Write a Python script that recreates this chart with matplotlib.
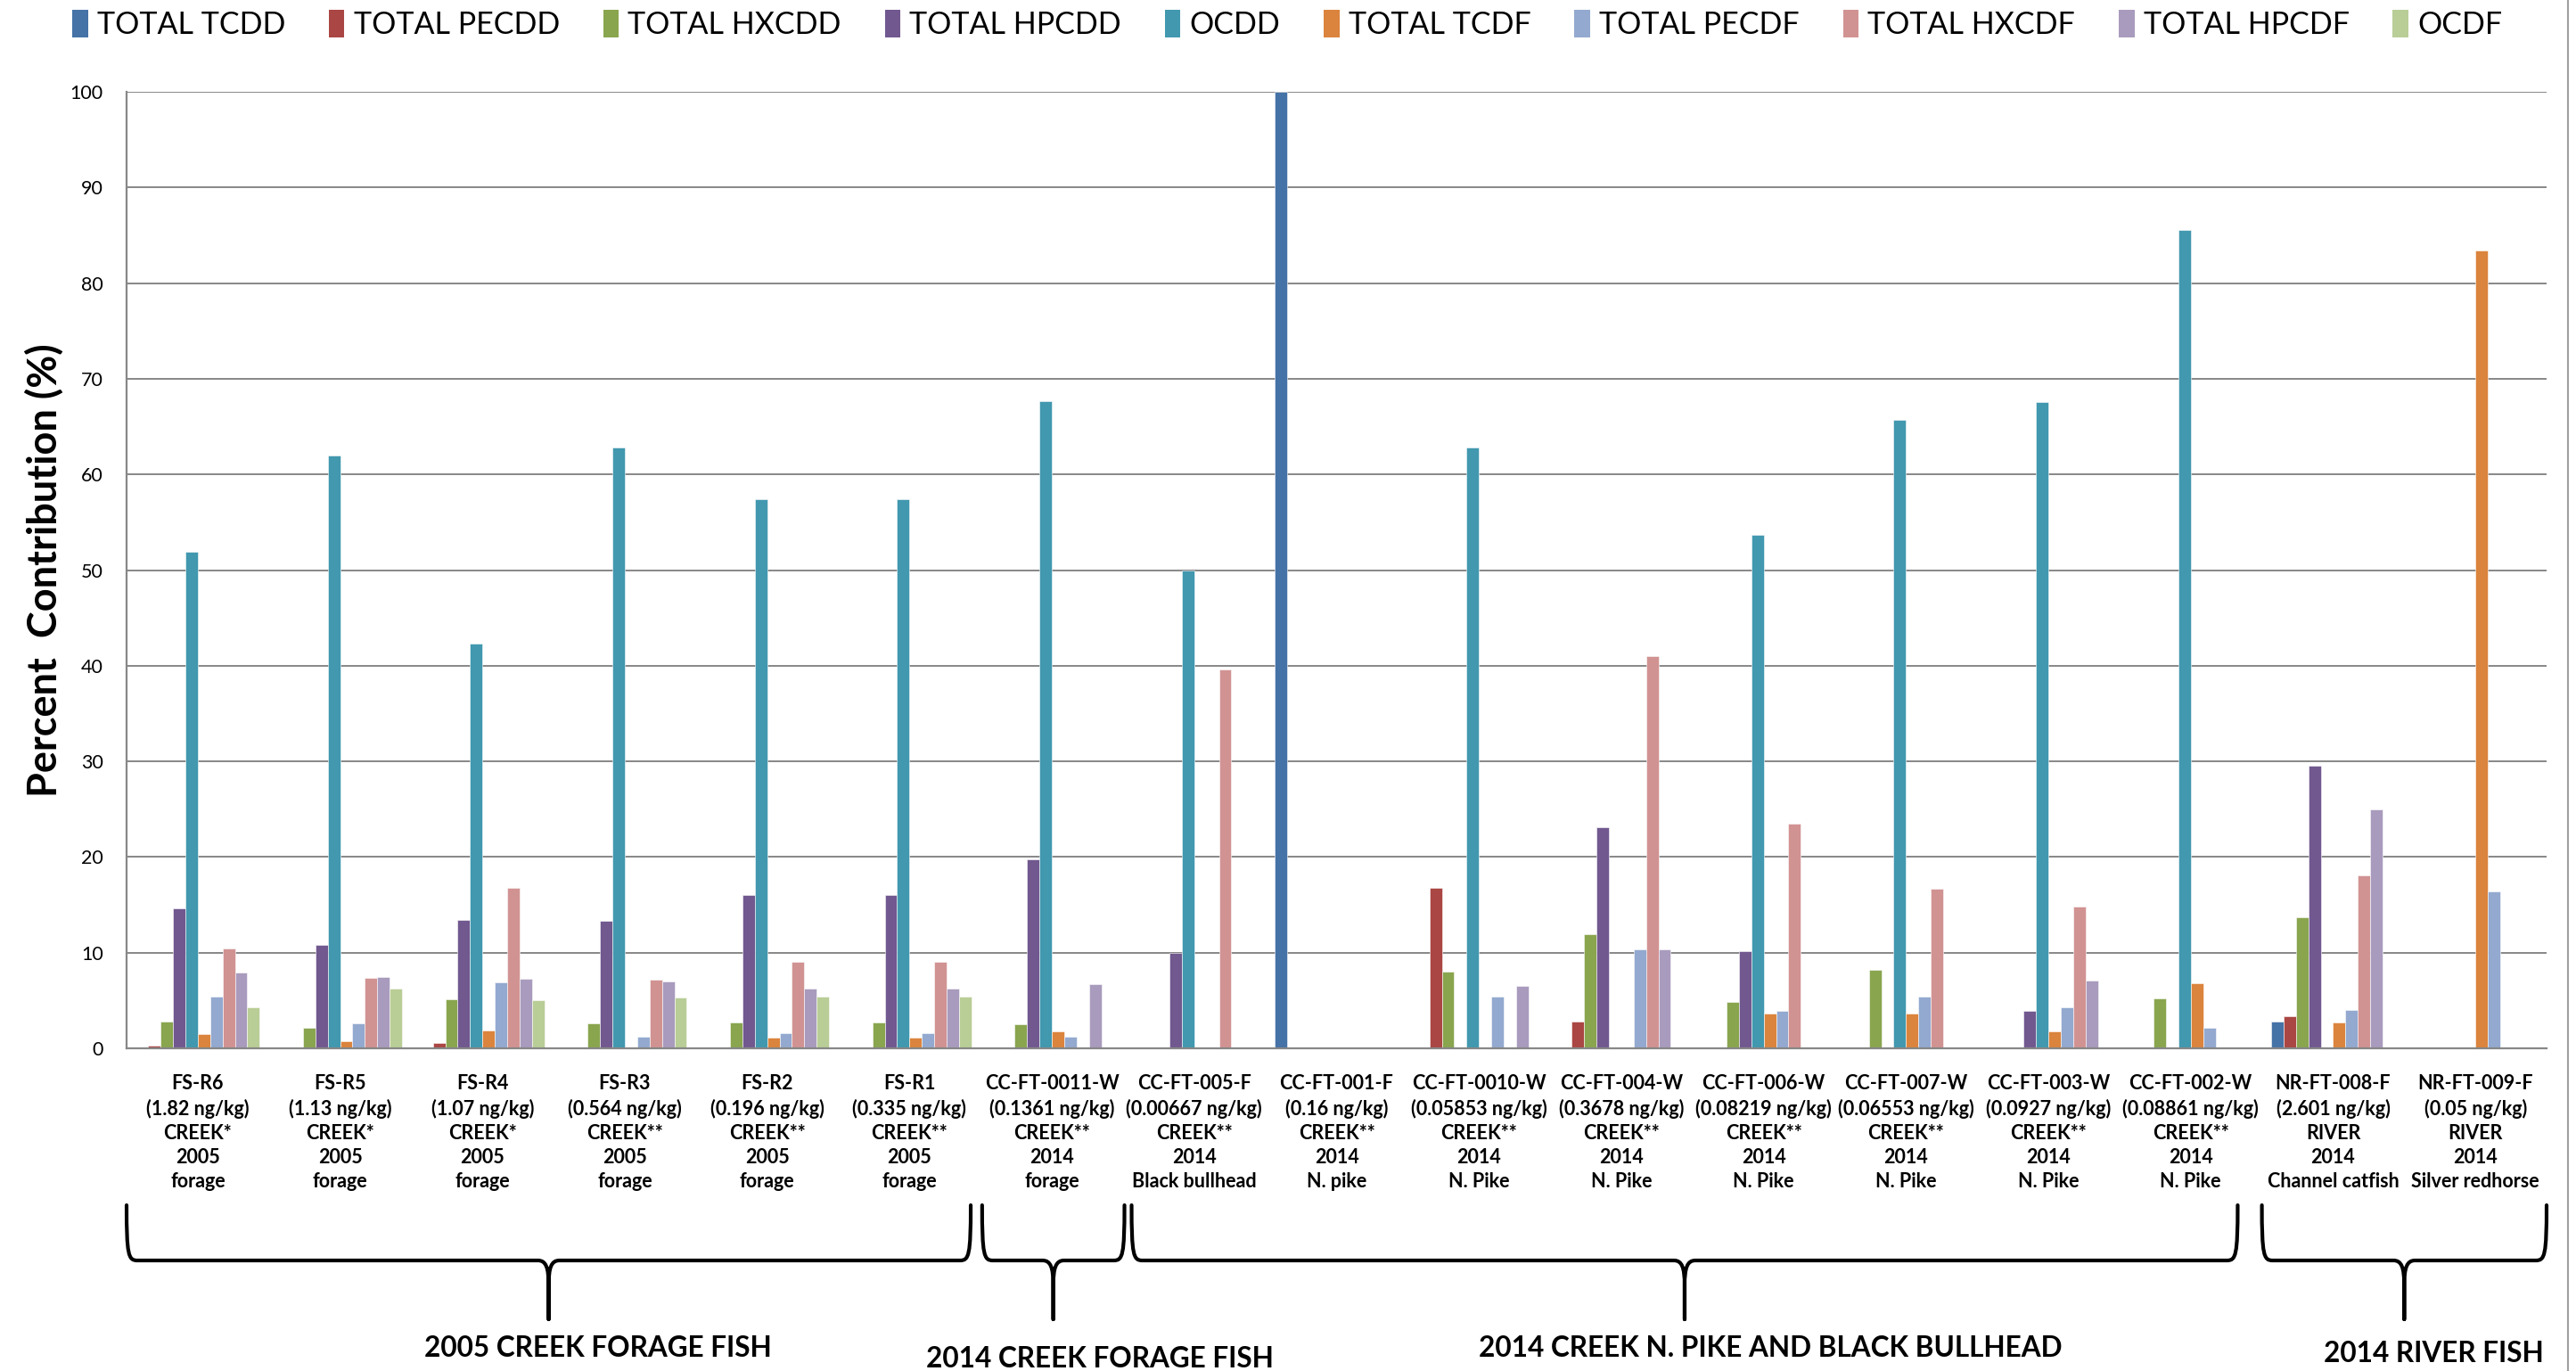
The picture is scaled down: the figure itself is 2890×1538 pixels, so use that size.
import matplotlib
matplotlib.use("Agg")
import matplotlib.pyplot as plt
import numpy as np
from matplotlib.path import Path
from matplotlib.patches import PathPatch, Patch
from matplotlib.lines import Line2D
import matplotlib.transforms as mtransforms

# ---------------------------------------------------------------- data
samples = ["FS-R6", "FS-R5", "FS-R4", "FS-R3", "FS-R2", "FS-R1",
           "CC-FT-0011-W", "CC-FT-005-F", "CC-FT-001-F", "CC-FT-0010-W",
           "CC-FT-004-W", "CC-FT-006-W", "CC-FT-007-W", "CC-FT-003-W",
           "CC-FT-002-W", "NR-FT-008-F", "NR-FT-009-F"]
concentrations = ["1.82 ng/kg", "1.13 ng/kg", "1.07 ng/kg", "0.564 ng/kg",
                  "0.196 ng/kg", "0.335 ng/kg", "0.1361 ng/kg", "0.00667 ng/kg",
                  "0.16 ng/kg", "0.05853 ng/kg", "0.3678 ng/kg", "0.08219 ng/kg",
                  "0.06553 ng/kg", "0.0927 ng/kg", "0.08861 ng/kg", "2.601 ng/kg",
                  "0.05 ng/kg"]
waterbodies = ["CREEK*", "CREEK*", "CREEK*", "CREEK**", "CREEK**", "CREEK**",
               "CREEK**", "CREEK**", "CREEK**", "CREEK**", "CREEK**", "CREEK**",
               "CREEK**", "CREEK**", "CREEK**", "RIVER", "RIVER"]
years = ["2005", "2005", "2005", "2005", "2005", "2005", "2014", "2014", "2014",
         "2014", "2014", "2014", "2014", "2014", "2014", "2014", "2014"]
species = ["forage", "forage", "forage", "forage", "forage", "forage", "forage",
           "Black bullhead", "N. pike", "N. Pike", "N. Pike", "N. Pike",
           "N. Pike", "N. Pike", "N. Pike", "Channel catfish", "Silver redhorse"]

congeners = ["TOTAL TCDD", "TOTAL PECDD", "TOTAL HXCDD", "TOTAL HPCDD", "OCDD",
             "TOTAL TCDF", "TOTAL PECDF", "TOTAL HXCDF", "TOTAL HPCDF", "OCDF"]

total_tcdd = [0.1, 0, 0, 0, 0, 0, 0, 0, 100, 0, 0, 0, 0, 0, 0, 2.8, 0]
total_pecdd = [0.3, 0, 0.6, 0, 0, 0, 0, 0, 0, 16.8, 2.8, 0, 0, 0, 0, 3.4, 0]
total_hxcdd = [2.8, 2.1, 5.1, 2.6, 2.7, 2.7, 2.5, 0, 0, 8.0, 11.9, 4.8, 8.2, 0, 5.2, 13.7, 0]
total_hpcdd = [14.6, 10.8, 13.4, 13.3, 16.0, 16.0, 19.8, 10.0, 0, 0, 23.1, 10.2, 0, 3.9, 0, 29.5, 0]
ocdd = [51.9, 62.0, 42.3, 62.8, 57.4, 57.4, 67.7, 50.0, 0, 62.8, 0, 53.7, 65.7, 67.6, 85.6, 0, 0]
total_tcdf = [1.5, 0.7, 1.9, 0, 1.1, 1.1, 1.8, 0, 0, 0, 0, 3.6, 3.6, 1.8, 6.8, 2.7, 83.4]
total_pecdf = [5.4, 2.6, 6.9, 1.2, 1.6, 1.6, 1.2, 0, 0, 5.4, 10.3, 3.9, 5.4, 4.3, 2.1, 4.0, 16.4]
total_hxcdf = [10.4, 7.4, 16.8, 7.2, 9.0, 9.0, 0, 39.6, 0, 0, 41.0, 23.5, 16.7, 14.8, 0, 18.1, 0]
total_hpcdf = [7.9, 7.5, 7.3, 7.0, 6.2, 6.2, 6.7, 0, 0, 6.5, 10.3, 0, 0, 7.1, 0, 25.0, 0]
ocdf = [4.3, 6.2, 5.0, 5.35, 5.4, 5.4, 0, 0, 0, 0, 0, 0, 0, 0, 0, 0, 0]

series = [total_tcdd, total_pecdd, total_hxcdd, total_hpcdd, ocdd,
          total_tcdf, total_pecdf, total_hxcdf, total_hpcdf, ocdf]

group_titles = ["2005 CREEK FORAGE FISH", "2014 CREEK FORAGE FISH",
                "2014 CREEK N. PIKE AND BLACK BULLHEAD", "2014 RIVER FISH"]

# ---------------------------------------------------------------- style
colors = ["#4572A7", "#AA4643", "#89A54E", "#71588F", "#4198AF",
          "#DB843D", "#93A9CF", "#D19392", "#A99BBD", "#B9CD96"]
grid_gray = "#878787"

plt.rcParams['font.family'] = ['Lato', 'DejaVu Sans']

W, H = 2890, 1538
fig = plt.figure(figsize=(W / 100, H / 100), dpi=100)
ax = fig.add_axes([142 / W, 1 - 1176 / H, (2857 - 142) / W, (1176 - 103) / H])

x = np.arange(len(samples))
n = len(series)
width = 1.0 / (n + 1.5)
for i, (vals, col, name) in enumerate(zip(series, colors, congeners)):
    ax.bar(x + (i - (n - 1) / 2) * width, vals, width, color=col,
           edgecolor=(1, 1, 1, 0.55), linewidth=0.7, label=name, zorder=2)

ax.set_xlim(-0.5, len(samples) - 0.5)
ax.set_ylim(0, 100)
ax.set_yticks(np.arange(0, 101, 10))
ax.yaxis.grid(True, color=grid_gray, linewidth=1.4, zorder=0)
ax.set_axisbelow(True)
for side in ("top", "right"):
    ax.spines[side].set_visible(False)
for side in ("left", "bottom"):
    ax.spines[side].set_color(grid_gray)
    ax.spines[side].set_linewidth(1.6)
    ax.spines[side].set_zorder(3)

ax.tick_params(axis="y", length=0, pad=19, labelsize=15.5)
ax.tick_params(axis="x", length=0, pad=21)

tick_labels = [f"{s}\n({c})\n{w}\n{y}\n{sp}" for s, c, w, y, sp in
               zip(samples, concentrations, waterbodies, years, species)]
ax.set_xticks(x)
ax.set_xticklabels(tick_labels, fontsize=15.5, fontweight="bold",
                   linespacing=1.36)

ax.set_ylabel("Percent  Contribution (%)", fontsize=32.5, fontweight="bold",
              va="center")
ax.yaxis.set_label_coords((50 - 142) / (2857 - 142), 0.5)

# legend across the top
handles = [Patch(facecolor=c, edgecolor="none") for c in colors]
fig.legend(handles, congeners, loc="upper center", bbox_to_anchor=(0.4997, 0.995),
           ncol=n, frameon=False, fontsize=24.5,
           handlelength=0.52, handleheight=1.0, handletextpad=0.3,
           columnspacing=1.43, borderaxespad=0, borderpad=0.1)

# right border of the chart area
fig.add_artist(Line2D([2881 / W, 2881 / W], [0, 1], transform=fig.transFigure,
                      color="#a0a0a0", linewidth=1.5))

# curly braces grouping the samples
brace_spans = [(-0.5, 5.43), (5.51, 6.51), (6.56, 14.33), (14.5, 16.5)]
title_pos = [(2.81, 1512), (6.34, 1525), (11.05, 1512), (15.71, 1518)]
y_top, y_bar, y_tip = 1352, 1414, 1480


def to_fig(px, py):
    return px / W, 1 - py / H


def data_px(xd):
    return ax.transData.transform((xd, 0))[0]


blend = mtransforms.blended_transform_factory(ax.transData, fig.transFigure)
for (x0, x1), title, (tx, ty) in zip(brace_spans, group_titles, title_pos):
    p0, p1 = data_px(x0), data_px(x1)
    pm = (p0 + p1) / 2
    r = 12
    pts = [
        (p0, y_top),
        (p0, y_bar - 6), (p0 + 2, y_bar), (p0 + r, y_bar),
        (pm - r, y_bar),
        (pm - 3, y_bar), (pm, y_bar + 8), (pm, y_bar + 28),
        (pm, y_tip),
        (pm, y_bar + 28),
        (pm, y_bar + 8), (pm + 3, y_bar), (pm + r, y_bar),
        (p1 - r, y_bar),
        (p1 - 2, y_bar), (p1, y_bar - 6), (p1, y_top),
    ]
    codes = [Path.MOVETO,
             Path.CURVE4, Path.CURVE4, Path.CURVE4,
             Path.LINETO,
             Path.CURVE4, Path.CURVE4, Path.CURVE4,
             Path.LINETO,
             Path.LINETO,
             Path.CURVE4, Path.CURVE4, Path.CURVE4,
             Path.LINETO,
             Path.CURVE4, Path.CURVE4, Path.CURVE4]
    verts = [to_fig(px, py) for px, py in pts]
    fig.add_artist(PathPatch(Path(verts, codes), transform=fig.transFigure,
                             fill=False, edgecolor="black", linewidth=3.0,
                             capstyle="round", joinstyle="round"))
    fig.text(tx, 1 - ty / H, title, transform=blend, ha="center", va="center",
             fontsize=22.7, fontweight="bold")

fig.savefig("out.png", dpi=100, facecolor="white")
